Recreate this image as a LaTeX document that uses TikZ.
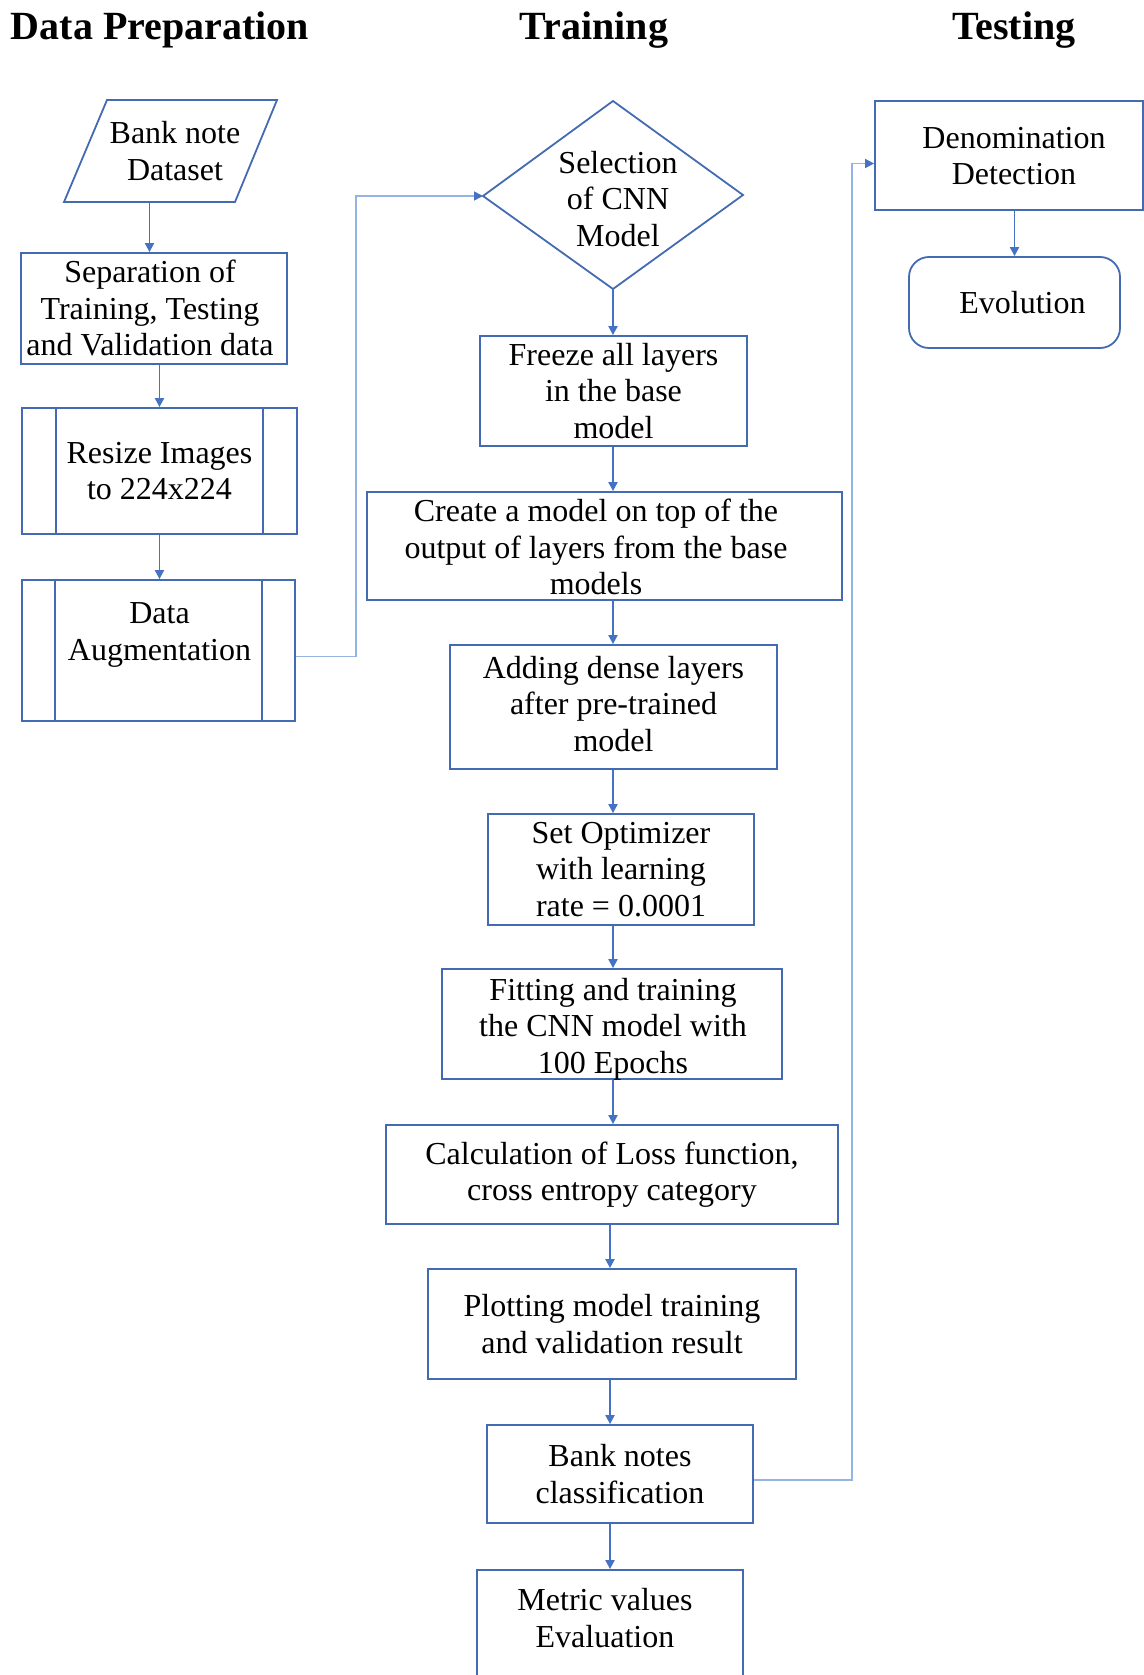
\documentclass[tikz,border=0pt]{standalone}
\usepackage{fontspec}
\setmainfont{Liberation Serif}
\usetikzlibrary{arrows.meta,calc}

\definecolor{boxc}{RGB}{68,106,178}
\definecolor{arrc}{RGB}{68,114,196}
\definecolor{linkc}{RGB}{150,180,226}

\begin{document}
\begin{tikzpicture}[x=0.5pt,y=-0.5pt,
  txt/.style={font=\fontsize{16}{18.2}\selectfont, align=center, inner sep=0pt},
  box/.style={txt, draw=boxc, line width=0.9pt},
  boxline/.style={draw=boxc, line width=0.9pt, line join=miter},
  title/.style={font=\fontsize{20}{24}\selectfont\bfseries, anchor=base, inner sep=0pt},
  arr/.style={draw=arrc, line width=0.95pt, -{Triangle[length=4.5pt,width=4.5pt]}},
  link/.style={draw=linkc, line width=0.8pt, -{Triangle[length=4.5pt,width=4.5pt,color=arrc]}}]
\useasboundingbox (0,0) rectangle (1144,1675);

% column headings
\node[title] (h1) at (160,40) {Data Preparation};
\node[title] (h2) at (594,40) {Training};
\node[title] (h3) at (1014,40) {Testing};

% ---------- Data preparation ----------
\coordinate (p1) at (64,202);
\coordinate (p2) at (107,100);
\coordinate (p3) at (277,100);
\coordinate (p4) at (235,202);
\coordinate (pb) at (149.5,202);
\draw[boxline] (p1) -- (p2) -- (p3) -- (p4) -- cycle;
\node[txt] (bank) at (175,151) {Bank note\\Dataset};

\node[box, minimum width=133pt, minimum height=55.5pt] (sep) at (154,308.5) {};
\node[txt] (septxt) at (150,308) {Separation of\\Training, Testing\\and Validation data};

\node[box, minimum width=137.5pt, minimum height=63pt] (resize) at (159.5,471)
  {Resize Images\\to 224x224};
\draw[boxline] ([xshift=17.5pt]resize.north west) -- ([xshift=17.5pt]resize.south west);
\draw[boxline] ([xshift=-17.5pt]resize.north east) -- ([xshift=-17.5pt]resize.south east);

\node[box, minimum width=136.5pt, minimum height=70.5pt] (aug) at (158.5,650.5) {};
\node[txt] (augtxt) at (159.5,635) {Data\\Augmentation};
\draw[boxline] ([xshift=17pt]aug.north west) -- ([xshift=17pt]aug.south west);
\draw[boxline] ([xshift=-17pt]aug.north east) -- ([xshift=-17pt]aug.south east);

% ---------- Training ----------
\coordinate (selT) at (613,101);
\coordinate (selR) at (743,195);
\coordinate (selB) at (613,289);
\coordinate (selL) at (483,196);
\draw[boxline] (selT) -- (selR) -- (selB) -- (selL) -- cycle;
\node[txt] (sel) at (618,199) {Selection\\of CNN\\Model};

\node[box, minimum width=133.5pt, minimum height=55pt] (freeze) at (613.5,391)
  {Freeze all layers\\in the base\\model};
\node[box, minimum width=237.5pt, minimum height=54pt] (create) at (604.5,546) {};
\node[txt] (createtxt) at (596,547) {Create a model on top of the\\output of layers from the base\\models};
\node[box, minimum width=163.5pt, minimum height=62pt] (adding) at (613.5,707) {};
\node[txt] (addingtxt) at (613.5,704) {Adding dense layers\\after pre-trained\\model};
\node[box, minimum width=133pt, minimum height=55.5pt] (setopt) at (621,869.5)
  {Set Optimizer\\with learning\\rate = 0.0001};
\node[box, minimum width=170pt, minimum height=55pt] (fit) at (612,1024) {};
\node[txt] (fittxt) at (613,1029) {Fitting and training\\the CNN model with\\100 Epochs};
\node[box, minimum width=226pt, minimum height=49.5pt] (calc) at (612,1174.5)
  {Calculation of Loss function,\\cross entropy category};
\node[box, minimum width=184pt, minimum height=55pt] (plot) at (612,1324)
  {Plotting model training\\and validation result};
\node[box, minimum width=133pt, minimum height=49pt] (notes) at (620,1474)
  {Bank notes\\classification};
\node[box, minimum width=133pt, minimum height=66pt] (metric) at (610,1636) {};
\node[txt] (metrictxt) at (605,1618) {Metric values\\Evaluation};

% ---------- Testing ----------
\node[box, minimum width=134pt, minimum height=54.5pt] (denom) at (1009,155.5) {};
\node[txt] (denomtxt) at (1014,156) {Denomination\\Detection};
\node[box, rounded corners=10pt, minimum width=105.5pt, minimum height=45.5pt] (evol) at (1014.5,302.5)
  {\hspace*{8pt}Evolution};

% ---------- connectors ----------
\coordinate (spine) at (613,0);
\coordinate (spineb) at (610,0);
\coordinate (bendA) at (356,0);
\coordinate (bendB) at (852,0);

\draw[arr] (pb) -- (pb |- sep.north);
\draw[arr] (sep.south -| resize.north) -- (resize.north);
\draw[arr] (resize.south) -- (resize.south |- aug.north);

\draw[link] ([yshift=-3pt]aug.east) -| (bendA |- selL) -- (selL);

\draw[arr] (selB) -- (selB |- freeze.north);
\draw[arr] (freeze.south -| spine) -- (create.north -| spine);
\draw[arr] (create.south -| spine) -- (adding.north -| spine);
\draw[arr] (adding.south -| spine) -- (setopt.north -| spine);
\draw[arr] (setopt.south -| spine) -- (fit.north -| spine);
\draw[arr] (fit.south -| spine) -- (calc.north -| spine);
\draw[arr] (calc.south -| spineb) -- (plot.north -| spineb);
\draw[arr] (plot.south -| spineb) -- (notes.north -| spineb);
\draw[arr] (notes.south -| spineb) -- (metric.north -| spineb);

\draw[link] ([yshift=-3pt]notes.east) -| ([yshift=-4pt]bendB |- denom.west) -- ([yshift=-4pt]denom.west);

\draw[arr] (denom.south -| evol.north) -- (evol.north);
\end{tikzpicture}
\end{document}
